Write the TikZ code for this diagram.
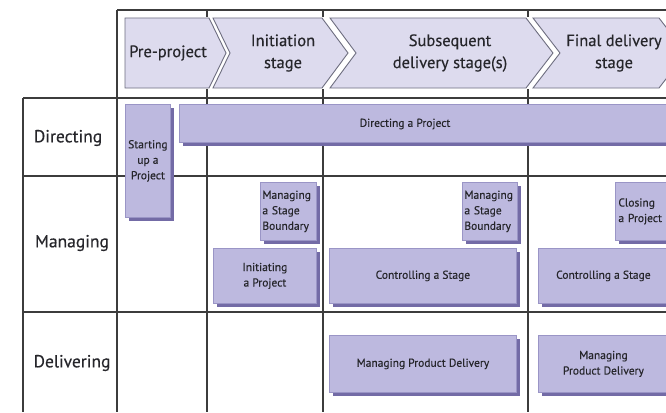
\documentclass[tikz,border=0pt]{standalone}
\usepackage{fontspec}
\setmainfont{PT Sans}[FakeBold=0.35]
\usetikzlibrary{shadows}
\definecolor{gridc}{HTML}{3C3C3C}
\definecolor{chevfill}{HTML}{DDDBEE}
\definecolor{chevline}{HTML}{6E6E80}
\definecolor{boxfill}{HTML}{BDB9DF}
\definecolor{boxline}{HTML}{9A95C6}
\definecolor{boxshadow}{HTML}{736BA6}
\definecolor{txt}{HTML}{26262B}
\tikzset{
  gridline/.style={draw=gridc, line width=1.3pt},
  chev/.style={fill=chevfill, draw=chevline, line width=0.9pt, line join=miter},
  hdr/.style={text=txt, align=center, font=\fontsize{16.5}{22}\selectfont, inner sep=0pt},
  rowlab/.style={text=txt, font=\fontsize{17.5}{22}\selectfont, inner sep=0pt},
  pbox/.style={draw=boxline, fill=boxfill, line width=0.8pt, anchor=north west,
    drop shadow={shadow xshift=3.5pt, shadow yshift=-3.5pt, fill=boxshadow, opacity=1},
    text=txt, font=\fontsize{11.5}{15.5}\selectfont, inner sep=0pt, align=center},
  btext/.style={text=txt, font=\fontsize{11.5}{15.5}\selectfont, inner sep=0pt, align=center},
}
\begin{document}
\begin{tikzpicture}[x=1pt,y=-1pt]
\clip (0,0) rectangle (666,412);
\fill[white] (0,0) rectangle (666,412);
% grid
\draw[gridline] (117,10) -- (666,10);
\draw[gridline] (23,98) -- (666,98);
\draw[gridline] (23,176) -- (666,176);
\draw[gridline] (23,312) -- (666,312);
\draw[gridline] (23,98) -- (23,412);
\draw[gridline] (117,10) -- (117,412);
\draw[gridline] (207,10) -- (207,412);
\draw[gridline] (323,10) -- (323,412);
\draw[gridline] (528,10) -- (528,412);
\fill[white] (118,17) rectangle (666,89);
% chevrons
\draw[chev] (125,18) -- (209,18) -- (226,53) -- (209,88) -- (125,88) -- cycle;
\draw[chev] (213,18) -- (322,18) -- (348,53) -- (322,88) -- (213,88) -- (230,53) -- cycle;
\draw[chev] (330,18) -- (526,18) -- (553,53) -- (526,88) -- (330,88) -- (356,53) -- cycle;
\draw[chev] (533,18) -- (659,18) -- (686,53) -- (659,88) -- (533,88) -- (560,53) -- cycle;
\node[hdr] (pre) at (168,53) {Pre-project};
\node[hdr] (ini) at (283,53) {Initiation\\stage};
\node[hdr] (sub) at (450,53) {Subsequent\\delivery stage(s)};
\node[hdr] (fin) at (614,53) {Final delivery\\stage};
% row labels
\node[rowlab] (dir) at (68,138) {Directing};
\node[rowlab] (man) at (72,243) {Managing};
\node[rowlab] (del) at (72,363) {Delivering};
% process boxes
\node[pbox, minimum width=45pt, minimum height=113pt] (sup) at (125,104) {Starting\\up a\\Project};
\node[pbox, minimum width=521pt, minimum height=38pt] (dap) at (179,104) {};
\node[btext] (dapt) at (405,124) {Directing a Project};
\node[pbox, minimum height=58pt, text width=52pt, inner xsep=2pt, align=left] (msb1) at (260,182) {Managing\\a Stage\\Boundary};
\node[pbox, minimum width=103pt, minimum height=55pt] (ip) at (213,248) {Initiating\\a Project};
\node[pbox, minimum height=58pt, text width=51pt, inner xsep=2pt, align=left] (msb2) at (462,182) {Managing\\a Stage\\Boundary};
\node[pbox, minimum width=187pt, minimum height=55pt] (cas1) at (329,248) {Controlling a Stage};
\node[pbox, minimum height=58pt, text width=60pt, inner xsep=3pt, align=left] (clp) at (615,182) {Closing\\a Project};
\node[pbox, minimum width=130pt, minimum height=55pt] (cas2) at (538,248) {Controlling a Stage};
\node[pbox, minimum width=187pt, minimum height=57pt] (mpd1) at (329,335) {Managing Product Delivery};
\node[pbox, minimum width=130pt, minimum height=57pt] (mpd2) at (538,335) {Managing\\Product Delivery};
\end{tikzpicture}
\end{document}
